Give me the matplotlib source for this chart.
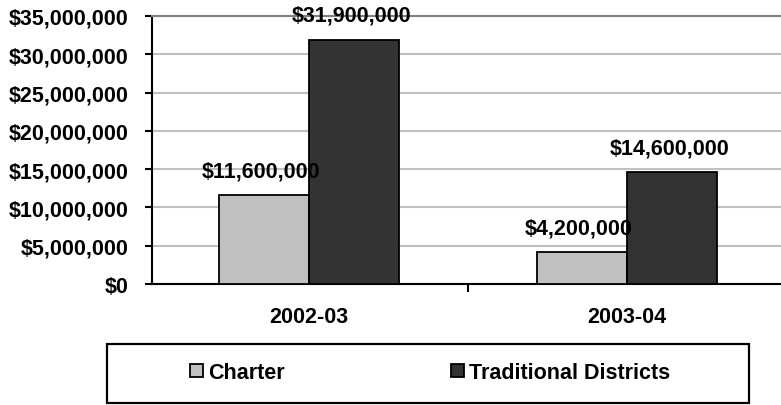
import matplotlib
matplotlib.use("Agg")
import matplotlib.pyplot as plt
from matplotlib.ticker import FuncFormatter, FixedLocator
from matplotlib.patches import Rectangle
import numpy as np

categories = ["2002-03", "2003-04"]
series_names = ["Charter", "Traditional Districts"]
charter = [11600000, 4200000]
traditional = [31900000, 14600000]
colors = ["#c0c0c0", "#333333"]

plt.rcParams['font.family'] = ['Liberation Sans', 'DejaVu Sans']
plt.rcParams['font.weight'] = 'bold'
FS = 15.5

W, H = 781, 406
fig = plt.figure(figsize=(W/100, H/100), dpi=100)
ax = fig.add_axes([152/W, 1-285/H, (781-152)/W, (285-17)/H])

x = np.arange(len(categories))
bw = 0.284
b1 = ax.bar(x - bw/2, charter, bw, color=colors[0], edgecolor="black", linewidth=1.3, label=series_names[0], zorder=3)
b2 = ax.bar(x + bw/2, traditional, bw, color=colors[1], edgecolor="black", linewidth=1.3, label=series_names[1], zorder=3)

for bars, vals in ((b1, charter), (b2, traditional)):
    for r, v in zip(bars, vals):
        ax.annotate(f"${v:,.0f}", (r.get_x()+r.get_width()/2, v), xytext=(-2, 17.5),
                    textcoords="offset points", ha="center", va="center",
                    fontsize=FS, fontweight="bold", zorder=5)

ax.set_ylim(0, 35000000)
ax.set_xlim(-0.494, 1.484)
ax.set_yticks(np.arange(0, 35000001, 5000000))
ax.yaxis.set_major_formatter(FuncFormatter(lambda v, p: f"${v:,.0f}"))
ax.set_xticks(x)
ax.set_xticklabels(categories)
ax.xaxis.set_minor_locator(FixedLocator([-0.5, 0.5, 1.5]))
ax.tick_params(axis='x', which='major', length=0, pad=16, labelsize=FS)
ax.tick_params(axis='x', which='minor', length=6, width=1.5, direction='out')
ax.tick_params(axis='y', length=5, width=1.5, direction='out', labelsize=FS, pad=12)
for lab in ax.get_xticklabels() + ax.get_yticklabels():
    lab.set_fontweight('bold')

ax.grid(axis='y', color='#c0c0c0', linewidth=1.5, zorder=0)
ax.set_axisbelow(True)
ax.spines['right'].set_visible(False)
ax.spines['top'].set_color('#808080')
ax.spines['top'].set_linewidth(1.5)
ax.spines['left'].set_linewidth(1.5)
ax.spines['bottom'].set_linewidth(1.5)

# legend frame
fig.patches.append(Rectangle((107/W, 1-404/H), (749-107)/W, 59/H, transform=fig.transFigure,
                             fill=False, edgecolor='black', linewidth=1.6))
fpx = FS*100/72
for handle, name, xpos in ((b1, series_names[0], 190), (b2, series_names[1], 451)):
    leg = fig.legend(handles=[handle], labels=[name], loc='center left',
                     bbox_to_anchor=(xpos/W, 1-373.5/H), fontsize=FS, frameon=False,
                     handlelength=13/fpx, handleheight=13/fpx, handletextpad=5/fpx,
                     borderaxespad=0, borderpad=0)
    for t in leg.get_texts():
        t.set_fontweight('bold')

fig.savefig("out.png", dpi=100)
